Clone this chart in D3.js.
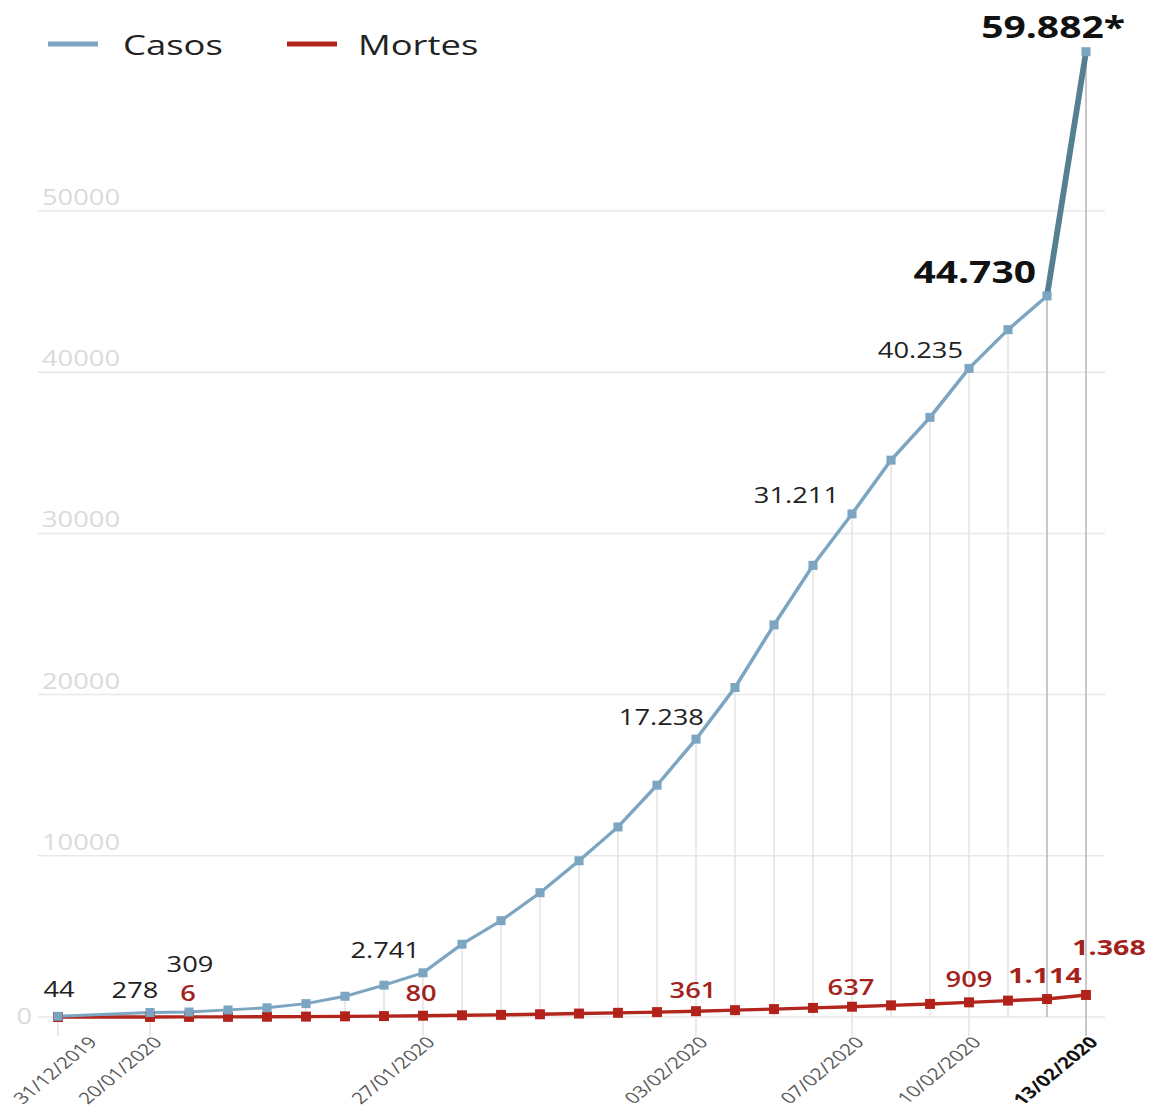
<!DOCTYPE html>
<html>
<head>
<meta charset="utf-8">
<script src="https://cdn.jsdelivr.net/npm/d3@7"></script>
<style>
  body { margin: 0; background: #fff; }
  svg { display: block; font-family: "Open Sans", sans-serif; }
</style>
</head>
<body>
<div id="chart"></div>
<script>
// categories (31/12 then one point per day)
const dates = ['31/12/2019', '20/01/2020', '21/01/2020', '22/01/2020', '23/01/2020', '24/01/2020',
  '25/01/2020', '26/01/2020', '27/01/2020', '28/01/2020', '29/01/2020', '30/01/2020', '31/01/2020',
  '01/02/2020', '02/02/2020', '03/02/2020', '04/02/2020', '05/02/2020', '06/02/2020', '07/02/2020',
  '08/02/2020', '09/02/2020', '10/02/2020', '11/02/2020', '12/02/2020', '13/02/2020'];

const casos = [44, 278, 309, 440, 571, 830, 1287, 1975, 2741, 4515, 5974, 7711, 9692, 11791,
  14380, 17238, 20438, 24324, 28018, 31211, 34546, 37198, 40235, 42638, 44730, 59882];

const mortes = [0, 3, 6, 9, 17, 25, 41, 56, 80, 106, 132, 170, 213, 259, 304, 361, 425, 490,
  563, 637, 722, 811, 909, 1017, 1114, 1368];

const xTickIdx = [0, 1, 8, 15, 19, 22, 25];
const yTicks = [0, 10000, 20000, 30000, 40000, 50000];
const casosLabelIdx = [0, 1, 2, 8, 15, 19, 22, 24, 25];
const mortesLabelIdx = [2, 8, 15, 19, 22, 24, 25];

// the original picture is stretched sideways, so draw narrow and stretch the svg
const SX = 1.3;
const W = 1150, H = 1113;

const fmt = d3.formatLocale({ decimal: ',', thousands: '.', grouping: [3], currency: ['', ''] }).format(',d');

const svg = d3.select('#chart').append('svg')
    .attr('width', W)
    .attr('height', H)
    .attr('viewBox', `0 0 ${W / SX} ${H}`)
    .attr('preserveAspectRatio', 'none');

const x = d3.scaleLinear()
    .domain([0, 1, dates.length - 1])
    .range([58, 150, 1086].map(v => v / SX));

const y = d3.scaleLinear()
    .domain([0, 50000])
    .range([1017, 211]);

//Gridlines
svg.append('g')
    .selectAll('line')
    .data(yTicks)
    .enter().append('line')
    .attr('x1', 38 / SX).attr('x2', 1105 / SX)
    .attr('y1', d => y(d)).attr('y2', d => y(d))
    .attr('stroke', '#e8e8e8')
    .attr('stroke-width', 1.5);

svg.append('g')
    .selectAll('text')
    .data(yTicks)
    .enter().append('text')
    .attr('x', d => d === 0 ? 32 / SX : 42 / SX)
    .attr('y', d => d === 0 ? y(d) : y(d) - 6)
    .attr('dy', d => d === 0 ? '0.35em' : 0)
    .attr('text-anchor', d => d === 0 ? 'end' : 'start')
    .attr('fill', '#dadada')
    .attr('font-size', 21)
    .text(d => d);

//Vertical lines from each point down
svg.append('g')
    .selectAll('line')
    .data(dates.map((d, i) => i))
    .enter().append('line')
    .attr('x1', i => x(i)).attr('x2', i => x(i))
    .attr('y1', i => y(casos[i]))
    .attr('y2', i => xTickIdx.includes(i) ? 1036 : y(0))
    .attr('stroke', i => i >= 24 ? '#b9b9b9' : '#e4e4e4')
    .attr('stroke-width', 1.2);

//Lines
const line = d3.line().x((d, i) => x(i)).y(d => y(d));

svg.append('path')
    .datum(mortes)
    .attr('fill', 'none')
    .attr('stroke', '#b3261e')
    .attr('stroke-width', 3.4)
    .attr('d', line);

svg.append('path')
    .datum(casos.slice(0, 25))
    .attr('fill', 'none')
    .attr('stroke', '#7ca5c1')
    .attr('stroke-width', 2.9)
    .attr('d', line);

svg.append('line')
    .attr('x1', x(24)).attr('y1', y(casos[24]))
    .attr('x2', x(25)).attr('y2', y(casos[25]))
    .attr('stroke', '#54808f')
    .attr('stroke-width', 4.5);

//Markers
svg.append('g')
    .selectAll('rect')
    .data(mortes)
    .enter().append('rect')
    .attr('x', (d, i) => x(i) - 3.8)
    .attr('y', d => y(d) - 5)
    .attr('width', 7.6).attr('height', 10)
    .attr('fill', '#b3221a');

svg.append('g')
    .selectAll('rect')
    .data(casos)
    .enter().append('rect')
    .attr('x', (d, i) => x(i) - 3.5)
    .attr('y', d => y(d) - 4.5)
    .attr('width', 7).attr('height', 9)
    .attr('fill', '#7ca5c1');

//Value labels (offsets in screen px)
const casosPos = {
  0: ['middle', 1, -19], 1: ['middle', -15, -15], 2: ['middle', 1, -40], 8: ['end', -3, -15],
  15: ['end', 8, -14], 19: ['end', -13, -11], 22: ['end', -6, -10], 24: ['end', -11, -13],
  25: ['end', 39, -14]
};
const mortesPos = {
  2: ['middle', -1, -16], 8: ['middle', -2, -15], 15: ['middle', -3, -13], 19: ['middle', -1, -12],
  22: ['middle', 0, -15], 24: ['middle', -2, -16], 25: ['middle', 23, -40]
};

svg.append('g')
    .selectAll('text')
    .data(casosLabelIdx)
    .enter().append('text')
    .attr('x', i => x(i) + casosPos[i][1] / SX)
    .attr('y', i => y(casos[i]) + casosPos[i][2])
    .attr('text-anchor', i => casosPos[i][0])
    .attr('font-size', i => i >= 24 ? 30 : 21)
    .attr('font-weight', i => i >= 24 ? 700 : 400)
    .attr('fill', i => i >= 24 ? '#111' : '#222')
    .text(i => fmt(casos[i]) + (i === 25 ? '*' : ''));

svg.append('g')
    .selectAll('text')
    .data(mortesLabelIdx)
    .enter().append('text')
    .attr('x', i => x(i) + mortesPos[i][1] / SX)
    .attr('y', i => y(mortes[i]) + mortesPos[i][2])
    .attr('text-anchor', i => mortesPos[i][0])
    .attr('font-size', i => i >= 24 ? 22 : 21)
    .attr('font-weight', i => i >= 24 ? 700 : 600)
    .attr('fill', '#a3231c')
    .text(i => fmt(mortes[i]));

//X tick labels
svg.append('g')
    .selectAll('text')
    .data(xTickIdx)
    .enter().append('text')
    .attr('transform', i => `translate(${x(i) + (i === 0 ? 40 : 13) / SX}, 1043) rotate(-47)`)
    .attr('text-anchor', 'end')
    .attr('font-size', 16)
    .attr('font-weight', i => i === 25 ? 700 : 400)
    .attr('fill', i => i === 25 ? '#111' : '#5a5a5a')
    .text(i => dates[i]);

//Legend
const legend = [
  { name: 'Casos', color: '#7ca5c1', x0: 48, tx: 123 },
  { name: 'Mortes', color: '#b3261e', x0: 287, tx: 358 }
];
const lg = svg.append('g').selectAll('g').data(legend).enter().append('g');
lg.append('line')
    .attr('x1', d => d.x0 / SX).attr('x2', d => (d.x0 + 50) / SX)
    .attr('y1', 44).attr('y2', 44)
    .attr('stroke', d => d.color)
    .attr('stroke-width', 5);
lg.append('text')
    .attr('x', d => d.tx / SX)
    .attr('y', 55)
    .attr('font-size', 28)
    .attr('fill', '#222')
    .text(d => d.name);
</script>
</body>
</html>
